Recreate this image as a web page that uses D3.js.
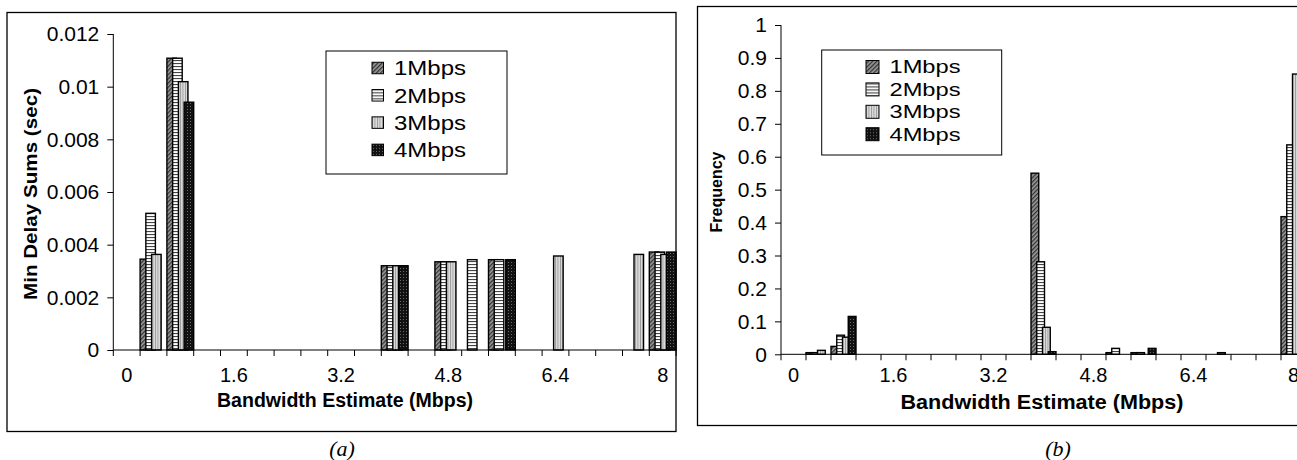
<!DOCTYPE html>
<html><head><meta charset="utf-8">
<script src="https://cdn.jsdelivr.net/npm/d3@7"></script>
<style>
body{margin:0;background:#fff}
svg{display:block}
text{font-family:Arial,"Liberation Sans",sans-serif;fill:#000}
text.cap{font-family:"Times New Roman","Liberation Serif",serif;font-style:italic}
</style>
</head><body>
<svg id="c" width="1297" height="460"></svg>
<script>
// ---- data ----
const categories = ["0","0.4","0.8","1.2","1.6","2","2.4","2.8","3.2","3.6","4","4.4","4.8","5.2","5.6","6","6.4","6.8","7.2","7.6","8"];
const xTickLabels = ["0","1.6","3.2","4.8","6.4","8"];
const seriesNames = ["1Mbps","2Mbps","3Mbps","4Mbps"];

const delay1 = [0,0.00345,0.01108,0,0,0,0,0,0,0,0.0032,0,0.00335,0,0.00343,0,0,0,0,0,0.00372];
const delay2 = [0,0.00519,0.01108,0,0,0,0,0,0,0,0.0032,0,0.00335,0.00343,0.00343,0,0,0,0,0,0.00372];
const delay3 = [0,0.00363,0.01019,0,0,0,0,0,0,0,0.0032,0,0.00335,0,0,0,0.00357,0,0,0.00363,0.00363];
const delay4 = [0,0,0.00941,0,0,0,0,0,0,0,0.0032,0,0,0,0.00343,0,0,0,0,0,0.00372];
const delayTicks = [0,0.002,0.004,0.006,0.008,0.01,0.012];

const freq1 = [0,0.005,0.024,0,0,0,0,0,0,0,0.55,0,0,0.005,0.005,0,0,0,0,0,0.418];
const freq2 = [0,0.005,0.058,0,0,0,0,0,0,0,0.281,0,0,0.018,0.005,0,0,0,0,0,0.636];
const freq3 = [0,0.012,0.052,0,0,0,0,0,0,0,0.082,0,0,0,0,0,0,0.005,0,0,0.851];
const freq4 = [0,0,0.115,0,0,0,0,0,0,0,0.008,0,0,0,0.018,0,0,0,0,0,0.86];
const freqTicks = [0,0.1,0.2,0.3,0.4,0.5,0.6,0.7,0.8,0.9,1];

// ---- drawing ----
const svg = d3.select("#c");
const defs = svg.append("defs");

function pat(id, w, h, bg, draw, rot){
  const p = defs.append("pattern").attr("id", id).attr("patternUnits","userSpaceOnUse")
    .attr("width", w).attr("height", h);
  if (rot) p.attr("patternTransform", "rotate(" + rot + ")");
  p.append("rect").attr("width", w).attr("height", h).attr("fill", bg);
  draw(p);
}
pat("p1", 3, 3, "#9a9a9a", p => p.append("rect").attr("x",0).attr("y",0).attr("width",1.3).attr("height",3).attr("fill","#333"), 45);
pat("p2", 3, 3, "#ffffff", p => p.append("rect").attr("x",0).attr("y",0).attr("width",3).attr("height",1.1).attr("fill","#444"));
pat("p3", 2.5, 3, "#dcdcdc", p => p.append("rect").attr("x",0).attr("y",0).attr("width",0.9).attr("height",3).attr("fill","#999"));
pat("p4", 3, 3, "#111111", p => p.append("rect").attr("x",1).attr("y",1).attr("width",1).attr("height",1).attr("fill","#6a6a6a"));
const fills = ["url(#p1)","url(#p2)","url(#p3)","url(#p4)"];

function chart(cfg){
  const g = svg.append("g");
  g.append("rect").attr("x", cfg.box[0]).attr("y", cfg.box[1])
    .attr("width", cfg.box[2]-cfg.box[0]).attr("height", cfg.box[3]-cfg.box[1])
    .attr("fill","none").attr("stroke","#000").attr("stroke-width",1.3);

  const x = d3.scaleBand().domain(categories).range([cfg.x0, cfg.x0 + cfg.cw*categories.length]).padding(0);
  const y = d3.scaleLinear().domain([0, cfg.ymax]).range([cfg.yb, cfg.yt]);
  const bw = x.bandwidth();
  const step = bw*cfg.stepFrac, w = bw - 3*step;

  cfg.series.forEach((vals, s) => {
    g.append("g").selectAll("rect")
      .data(vals.map((v,i)=>({c:categories[i], v})).filter(d => d.v > 0))
      .join("rect")
      .attr("x", d => x(d.c) + s*step)
      .attr("y", d => y(d.v))
      .attr("width", w)
      .attr("height", d => y(0) - y(d.v))
      .attr("fill", fills[s]).attr("stroke","#000").attr("stroke-width",1.4);
  });

  const ya = g.append("g").attr("transform","translate(" + cfg.x0 + ",0)")
    .call(d3.axisLeft(y).tickValues(cfg.yticks).tickFormat(d => String(d)).tickSize(6).tickPadding(8));
  ya.selectAll("path,line").attr("stroke","#000");
  ya.select(".domain").attr("d", "M0," + y(0) + "V" + y(cfg.ymax));
  ya.selectAll("text").attr("font-size", cfg.tickFont).attr("fill","#000");

  const xg = g.append("g");
  xg.append("line").attr("x1", cfg.x0).attr("x2", x.range()[1]).attr("y1", y(0)).attr("y2", y(0))
    .attr("stroke","#000");
  const bounds = categories.map(c => x(c)).concat([x.range()[1]]);
  xg.selectAll("line.t").data(bounds).join("line").attr("class","t")
    .attr("x1", d=>d).attr("x2", d=>d).attr("y1", y(0)).attr("y2", y(0)+6).attr("stroke","#000");
  xg.selectAll("text").data(xTickLabels).join("text")
    .attr("x", d => x(d) + bw/2).attr("y", cfg.xlabY)
    .attr("text-anchor","middle").attr("font-size", cfg.xFont).text(d=>d);

  g.append("text").attr("x", cfg.xtitleX).attr("y", cfg.xtitleY)
    .attr("text-anchor","middle").attr("font-weight","bold").attr("font-size", cfg.titleFont)
    .attr("textLength", cfg.xtitleLen).attr("lengthAdjust","spacingAndGlyphs")
    .text("Bandwidth Estimate (Mbps)");
  g.append("text").attr("transform","translate(" + cfg.ytitleX + "," + cfg.ytitleY + ") rotate(-90)")
    .attr("text-anchor","middle").attr("font-weight","bold").attr("font-size", cfg.ytitleFont)
    .attr("textLength", cfg.ytitleLen).attr("lengthAdjust","spacingAndGlyphs")
    .text(cfg.ytitle);

  const L = cfg.legend;
  g.append("rect").attr("x", L.x).attr("y", L.y).attr("width", L.w).attr("height", L.h)
    .attr("fill","#fff").attr("stroke","#000").attr("stroke-width",1);
  const li = g.append("g").selectAll("g").data(seriesNames).join("g")
    .attr("transform", (d,i) => "translate(" + L.mx + "," + (L.r0 + i*L.dy) + ")");
  li.append("rect").attr("x",0).attr("y",-L.ms/2).attr("width",L.ms).attr("height",L.ms)
    .attr("fill", (d,i)=>fills[i]).attr("stroke","#000").attr("stroke-width",1);
  li.append("text").attr("x", L.tx).attr("y", L.font*0.36).attr("font-size", L.font)
    .attr("textLength", L.tl).attr("lengthAdjust","spacingAndGlyphs").text(d=>d);

  svg.append("text").attr("class","cap").attr("x", cfg.capX).attr("y", cfg.capY).attr("text-anchor","middle")
    .attr("font-size", 22).text(cfg.caption);
}

chart({
  box:[7,12.5,676,431.5], x0:113.3, cw:26.8, yb:350, yt:34, ymax:0.012,
  stepFrac:0.2146, series:[delay1,delay2,delay3,delay4], yticks:delayTicks,
  tickFont:21, xFont:20, xlabY:382, xtitleX:345, xtitleY:407, titleFont:20, xtitleLen:256,
  ytitle:"Min Delay Sums (sec)", ytitleX:37, ytitleY:194, ytitleFont:18, ytitleLen:212,
  legend:{x:326,y:51,w:181,h:123,mx:372,r0:68,dy:27.3,ms:11.5,tx:22,font:20,tl:72},
  capX:342, capY:456, caption:"(a)"
});
chart({
  box:[697.5,6.5,1400,425.5], x0:781, cw:25, yb:354.3, yt:25, ymax:1,
  stepFrac:0.23, series:[freq1,freq2,freq3,freq4], yticks:freqTicks,
  tickFont:21, xFont:20, xlabY:382, xtitleX:1042, xtitleY:409, titleFont:20, xtitleLen:283,
  ytitle:"Frequency", ytitleX:722, ytitleY:192, ytitleFont:17, ytitleLen:81,
  legend:{x:821.7,y:50,w:180,h:105,mx:866,r0:67,dy:22.4,ms:13,tx:23.5,font:18,tl:71},
  capX:1058, capY:456, caption:"(b)"
});
</script>
</body></html>
